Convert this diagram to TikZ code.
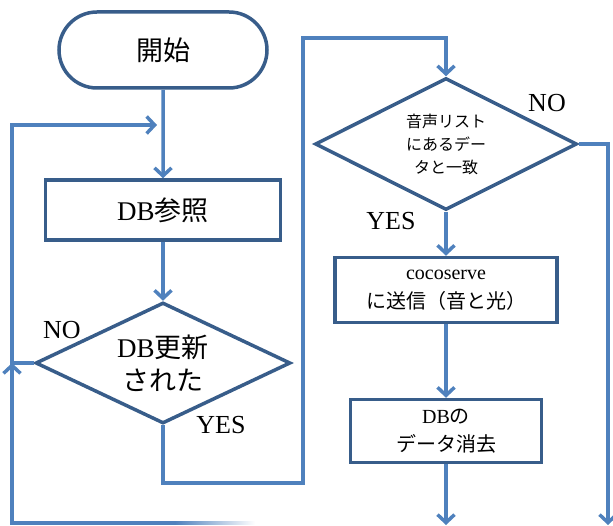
\documentclass[tikz,border=0pt]{standalone}
\usepackage{fontspec}
\setmainfont{Liberation Serif}
\newfontfamily\jp{Noto Sans CJK JP}
\usetikzlibrary{shapes.geometric,shapes.misc,arrows.meta}
\definecolor{flowline}{RGB}{79,129,189}
\definecolor{flowedge}{RGB}{56,93,138}

\begin{document}
\begin{tikzpicture}[x=1pt,y=-1pt,
  box/.style={draw=flowedge,line width=3.5pt,fill=white,inner sep=0pt,align=center},
  conn/.style={draw=flowline,line width=3.5pt},
  arr/.style={conn,-{Straight Barb[length=8pt,width=17pt]}},
  lbl/.style={font=\fontsize{26}{28}\selectfont}]
  \useasboundingbox (0,0) rectangle (613,526);

  % left column
  \node[box,rounded rectangle,minimum width=208pt,minimum height=76pt,font=\fontsize{27}{30}\selectfont\jp] (start) at (163,50) {開始};
  \node[box,minimum width=235pt,minimum height=60pt,font=\fontsize{27}{30}\selectfont] (ref) at (163,210) {DB{\jp 参照}};
  \node[box,diamond,aspect=2.1,minimum width=255pt,minimum height=121pt,font=\fontsize{27}{33}\selectfont] (upd) at (163,363) {DB{\jp 更新}\\{\jp された}};

  % right column
  \node[box,diamond,aspect=2,minimum width=262pt,minimum height=132pt,font=\fontsize{16}{23}\selectfont\jp] (match) at (446,144) {音声リスト\\にあるデー\\タと一致};
  \node[box,minimum width=222pt,minimum height=65pt,font=\fontsize{20}{29}\selectfont] (send) at (446,290) {cocoserve\\{\jp に送信（音と光）}};
  \node[box,minimum width=191pt,minimum height=63pt,font=\fontsize{20}{28}\selectfont] (del) at (446,431) {DB{\jp の}\\{\jp データ消去}};

  % branch labels
  \node[lbl] (noupd) at (62,330) {NO};
  \node[lbl] (yesupd) at (221,425) {YES};
  \node[lbl] (nomatch) at (547,103) {NO};
  \node[lbl] (yesmatch) at (391,221) {YES};

  \coordinate (loopin) at (157,125);
  \coordinate (loopup) at (12,363);
  \coordinate (back) at (175,523);
  \coordinate (ybot) at (303,483);
  \coordinate (ytop) at (303,38);
  \coordinate (endl) at (446,525);
  \coordinate (endr) at (608,525);

  \draw[arr] (start) -- (ref);
  \draw[arr] (ref) -- (upd);
  \draw[arr] (upd.west) -- (loopup) |- (loopin);
  \draw[arr] (back) -| (loopup);
  \shade[left color=flowline,right color=white] (175,521.25) rectangle (255,524.75);
  \draw[arr] (upd.south) |- (ybot) -- (ytop) -| (match.north);
  \draw[arr] (match.east) -| (endr);
  \draw[arr] (match) -- (send);
  \draw[arr] (send) -- (del);
  \draw[arr] (del) -- (endl);
\end{tikzpicture}
\end{document}
